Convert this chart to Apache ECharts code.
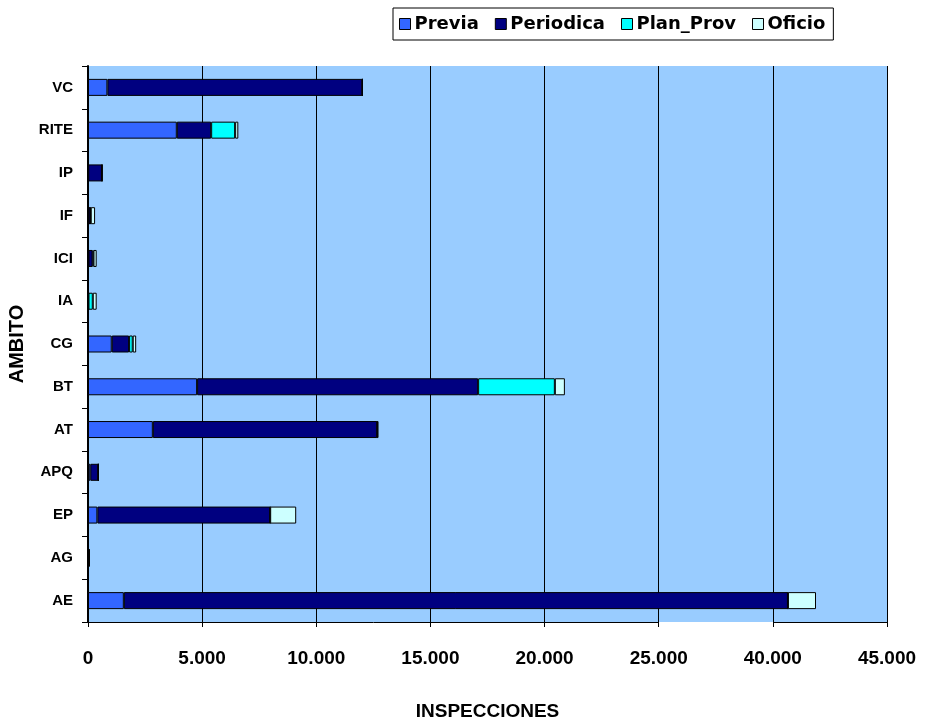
<!DOCTYPE html>
<html>
<head>
<meta charset="utf-8">
<script src="https://cdn.jsdelivr.net/npm/echarts@6/dist/echarts.min.js"></script>
<style>
  html, body { margin: 0; padding: 0; background: #fff; }
  #chart { width: 925px; height: 718px; }
</style>
</head>
<body>
<div id="chart"></div>
<script>
// categories, bottom to top
const ambitos = ['AE', 'AG', 'EP', 'APQ', 'AT', 'BT', 'CG', 'IA', 'ICI', 'IF', 'IP', 'RITE', 'VC']
const previa = [1570, 10, 410, 100, 2840, 4780, 1040, 20, 20, 20, 10, 3890, 850]
const periodica = [39090, 40, 7570, 350, 9830, 12310, 760, 0, 180, 90, 600, 1505, 11170]
const planProv = [0, 0, 0, 0, 0, 3360, 160, 190, 40, 10, 0, 1050, 0]
const oficio = [1230, 0, 1140, 0, 50, 440, 150, 170, 140, 190, 20, 140, 0]
// eje cortado entre 25.000 y 40.000
const corte = [25000, 40000]

const colorList = ['#3366FF', '#000080', '#00FFFF', '#CCFFFF']

const chart = echarts.init(document.getElementById('chart'))

function miles(v) {
  return String(v).replace(/\B(?=(\d{3})+(?!\d))/g, '.')
}

function serie(name, data, i) {
  return {
    name: name,
    type: 'bar',
    stack: 'total',
    data: data,
    barWidth: 17,
    itemStyle: {
      color: colorList[i],
      borderColor: '#000',
      borderWidth: 1
    }
  }
}

const series = [
  serie('Previa', previa, 0),
  serie('Periodica', periodica, 1),
  serie('Plan_Prov', planProv, 2),
  serie('Oficio', oficio, 3)
]
// lineas de division en los bordes del corte
series[0].markLine = {
  silent: true,
  symbol: 'none',
  z: 1,
  label: { show: false },
  lineStyle: { color: '#000', width: 1, type: 'solid' },
  data: corte.map(v => ({ xAxis: v }))
}

chart.setOption({
  animation: false,
  backgroundColor: '#fff',
  textStyle: { fontFamily: 'Arial, "Liberation Sans", sans-serif' },
  legend: {
    left: 393,
    top: 8,
    padding: [7, 8, 7, 6],
    itemGap: 16,
    itemWidth: 11,
    itemHeight: 11,
    borderColor: '#000',
    borderWidth: 1,
    icon: 'rect',
    textStyle: {
      fontFamily: '"DejaVu Sans", sans-serif',
      fontWeight: 'bold',
      fontSize: 18,
      color: '#000',
      padding: [0, 0, 0, -1]
    },
    itemStyle: { borderColor: '#000', borderWidth: 1 },
    data: ['Previa', 'Periodica', 'Plan_Prov', 'Oficio']
  },
  grid: {
    left: 88,
    right: 38,
    top: 66,
    bottom: 96,
    outerBoundsMode: 'none',
    containLabel: false,
    show: true,
    backgroundColor: '#99CCFF',
    borderWidth: 0
  },
  xAxis: {
    type: 'value',
    min: 0,
    max: 45000,
    interval: 5000,
    breaks: [{ start: corte[0], end: corte[1], gap: 5000 }],
    breakArea: {
      show: true,
      zigzagAmplitude: 0,
      itemStyle: { color: 'rgba(0,0,0,0)', borderColor: 'rgba(0,0,0,0)', borderWidth: 0 }
    },
    name: 'INSPECCIONES',
    nameLocation: 'middle',
    nameGap: 80,
    nameTextStyle: { fontWeight: 'bold', fontSize: 19, color: '#000' },
    axisLine: { show: true, lineStyle: { color: '#000', width: 1 } },
    axisTick: { show: true, length: 5, lineStyle: { color: '#000' } },
    axisLabel: {
      margin: 27,
      fontFamily: '"Liberation Sans Narrow", "Arial Narrow", Arial, sans-serif',
      fontWeight: 'bold',
      fontSize: 19,
      color: '#000',
      formatter: miles
    },
    splitLine: { show: true, lineStyle: { color: '#000', width: 1 } }
  },
  yAxis: {
    type: 'category',
    data: ambitos,
    name: 'AMBITO',
    nameLocation: 'middle',
    nameGap: 60,
    nameRotate: 90,
    nameTextStyle: { fontWeight: 'bold', fontSize: 20, color: '#000' },
    axisLine: { show: true, lineStyle: { color: '#000', width: 2 } },
    axisTick: { show: true, length: 6, lineStyle: { color: '#000' } },
    axisLabel: {
      margin: 15,
      fontWeight: 'bold',
      fontSize: 15,
      color: '#000'
    }
  },
  series: series
})
</script>
</body>
</html>
